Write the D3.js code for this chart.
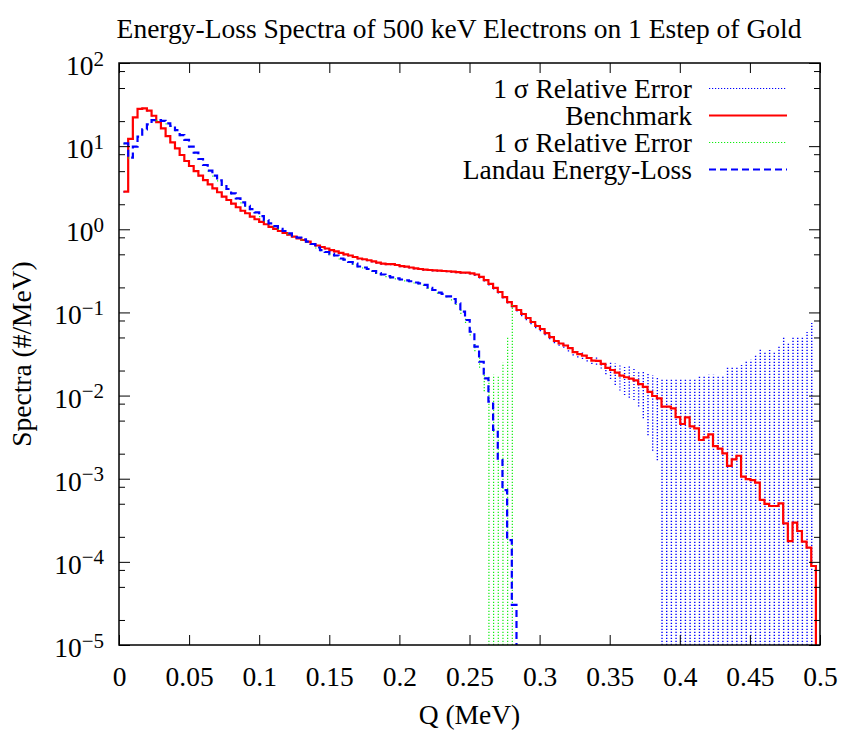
<!DOCTYPE html>
<html>
<head>
<meta charset="utf-8">
<script src="https://cdn.jsdelivr.net/npm/d3@7"></script>
<style>
  body { margin: 0; background: #fff; }
  svg { display: block; }
  svg text { font-family: 'Liberation Serif', 'Times New Roman', Times, 'DejaVu Serif', serif; }
</style>
</head>
<body>
<svg id="chart" width="844" height="730"></svg>
<script>
// histogram binning (MeV)
const binLo = 0.00321;
const binWidth = 0.003337;

// Benchmark spectrum (#/MeV), one value per bin
const benchmark = [
  2.83, 12.2, 22.2, 28.0, 28.5, 26.7, 23.2, 19.4, 16.4, 13.2,
  11.1, 9.42, 7.82, 6.63, 5.77, 5.02, 4.41, 3.91, 3.47, 3.11,
  2.79, 2.47, 2.25, 2.03, 1.84, 1.67, 1.56, 1.42, 1.32, 1.23,
  1.15, 1.07, 1.01, 0.953, 0.902, 0.861, 0.814, 0.779, 0.743, 0.709,
  0.665, 0.638, 0.612, 0.587, 0.563, 0.541, 0.519, 0.500, 0.484, 0.464,
  0.445, 0.436, 0.424, 0.412, 0.398, 0.387, 0.382, 0.380, 0.372, 0.361,
  0.355, 0.347, 0.339, 0.333, 0.328, 0.324, 0.321, 0.318, 0.315, 0.313,
  0.309, 0.305, 0.301, 0.301, 0.295, 0.286, 0.267, 0.245, 0.220, 0.197,
  0.176, 0.153, 0.133, 0.119, 0.107, 0.0957, 0.0857, 0.0767, 0.0687, 0.0632,
  0.0565, 0.0506, 0.0453, 0.0423, 0.0400, 0.0373, 0.0334, 0.0316, 0.0303, 0.0283,
  0.0263, 0.0261, 0.0240, 0.0215, 0.0203, 0.0189, 0.0174, 0.0166, 0.0160, 0.0152,
  0.0137, 0.0127, 0.0111, 0.00988, 0.00927, 0.00735, 0.00735, 0.00703, 0.00552, 0.00455,
  0.00548, 0.00427, 0.00404, 0.00292, 0.00315, 0.00342, 0.00247, 0.00230, 0.00202, 0.00143,
  0.00171, 0.00189, 0.00106, 0.000991, 0.000964, 0.000895, 0.000555, 0.000497, 0.000470, 0.000470,
  0.000506, 0.000291, 0.000178, 0.000296, 0.000235, 0.000175, 0.000148, 0.0000891
];

// 1 sigma relative error of the benchmark
const benchErr = [
  0.02, 0.02, 0.02, 0.02, 0.02, 0.02, 0.02, 0.02, 0.02, 0.02,
  0.02, 0.02, 0.02, 0.02, 0.02, 0.02, 0.02, 0.02, 0.02, 0.02,
  0.02, 0.02, 0.02, 0.02, 0.02, 0.02, 0.02, 0.02, 0.02, 0.02,
  0.02, 0.02, 0.02, 0.02, 0.02, 0.02, 0.02, 0.02, 0.02, 0.02,
  0.03, 0.03, 0.03, 0.03, 0.03, 0.03, 0.03, 0.03, 0.03, 0.03,
  0.03, 0.03, 0.03, 0.03, 0.03, 0.03, 0.03, 0.03, 0.03, 0.03,
  0.03, 0.03, 0.03, 0.03, 0.03, 0.03, 0.03, 0.03, 0.03, 0.03,
  0.03, 0.03, 0.03, 0.03, 0.03, 0.04, 0.04, 0.04, 0.04, 0.04,
  0.04, 0.04, 0.04, 0.04, 0.04, 0.06, 0.06, 0.06, 0.06, 0.06,
  0.06, 0.06, 0.06, 0.06, 0.06, 0.09, 0.09, 0.09, 0.09, 0.09,
  0.09, 0.1, 0.12, 0.16, 0.22, 0.29, 0.34, 0.39, 0.41, 0.42,
  0.46, 0.58, 0.7, 0.78, 0.82, 1.15, 1.15, 1.25, 1.86, 2.47,
  1.88, 2.7, 2.9, 5.0, 4.6, 4.2, 6.2, 6.7, 7.7, 14.4,
  11.9, 10.7, 21, 26, 27, 33, 63, 66, 74, 70,
  79, 173, 247, 170, 214, 288, 392, 836
];

// Landau energy-loss spectrum (#/MeV)
const landau = [
  10.8, 7.26, 9.85, 13.0, 15.9, 18.3, 20.5, 20.6, 20.1, 18.8,
  17.5, 15.6, 13.6, 11.9, 9.85, 8.34, 7.00, 5.93, 5.07, 4.41,
  3.88, 3.41, 3.05, 2.71, 2.36, 2.11, 1.92, 1.75, 1.60, 1.44,
  1.29, 1.18, 1.09, 1.01, 0.953, 0.895, 0.837, 0.792, 0.757, 0.709,
  0.665, 0.604, 0.563, 0.533, 0.504, 0.484, 0.445, 0.431, 0.404, 0.387,
  0.357, 0.347, 0.333, 0.315, 0.298, 0.286, 0.274, 0.264, 0.257, 0.249,
  0.243, 0.237, 0.229, 0.223, 0.214, 0.197, 0.186, 0.173, 0.167, 0.156,
  0.145, 0.129, 0.102, 0.0811, 0.0586, 0.0387, 0.0255, 0.0161, 0.00844, 0.00386,
  0.00168, 0.000731, 0.000183, 0.0000303
];

// 1 sigma relative error of the Landau spectrum
const landauErr = [
  0.03, 0.03, 0.03, 0.03, 0.03, 0.03, 0.03, 0.03, 0.03, 0.03,
  0.03, 0.03, 0.03, 0.03, 0.03, 0.03, 0.03, 0.03, 0.03, 0.03,
  0.03, 0.03, 0.03, 0.03, 0.03, 0.03, 0.03, 0.03, 0.03, 0.03,
  0.03, 0.03, 0.03, 0.03, 0.03, 0.03, 0.03, 0.03, 0.03, 0.03,
  0.03, 0.03, 0.03, 0.03, 0.03, 0.03, 0.03, 0.03, 0.03, 0.03,
  0.03, 0.03, 0.03, 0.03, 0.03, 0.03, 0.03, 0.03, 0.03, 0.03,
  0.03, 0.03, 0.03, 0.03, 0.03, 0.03, 0.03, 0.03, 0.03, 0.03,
  0.04, 0.05, 0.06, 0.08, 0.1, 0.12, 0.15, 0.3, 1.0, 3.6,
  9.5, 33, 278, 4050
];

const xTicks = [0, 0.05, 0.1, 0.15, 0.2, 0.25, 0.3, 0.35, 0.4, 0.45, 0.5];
const xTickLabels = ['0', '0.05', '0.1', '0.15', '0.2', '0.25', '0.3', '0.35', '0.4', '0.45', '0.5'];
const yExponents = [2, 1, 0, -1, -2, -3, -4, -5];
const yMinorMantissas = [2, 5, 8];

const legendLabels = ['1 \u03c3 Relative Error', 'Benchmark', '1 \u03c3 Relative Error', 'Landau Energy-Loss'];

const width = 844;
const height = 730;
const margin = { top: 63, right: 24, bottom: 85, left: 119 };
const fontSize = 27.5;
const serif = "'Liberation Serif', 'Times New Roman', Times, 'DejaVu Serif', serif";

const svg = d3.select('#chart').attr('font-family', serif);

const x = d3.scaleLinear().domain([0, 0.5]).range([margin.left, width - margin.right]);
const y = d3.scaleLog().domain([1e-5, 1e2]).range([height - margin.bottom, margin.top]);
const bottomY = y.range()[0];

const yMajor = yExponents.map((e) => Math.pow(10, e));
const yMinor = [];
yExponents.slice(1).forEach((e) => {
  yMinorMantissas.forEach((m) => yMinor.push(m * Math.pow(10, e)));
});

svg.append('defs').append('clipPath').attr('id', 'plot-clip')
  .append('rect')
  .attr('x', margin.left).attr('y', margin.top)
  .attr('width', x.range()[1] - margin.left)
  .attr('height', bottomY - margin.top);

// step outline of a histogram
function stepPath(vals) {
  let p = '';
  vals.forEach((v, i) => {
    const x0 = x(binLo + i * binWidth);
    const x1 = x(binLo + (i + 1) * binWidth);
    p += (i === 0 ? `M${x0},${y(v)}` : `V${y(v)}`) + `H${x1}`;
  });
  return p + `V${bottomY + 4}`;
}

// one dotted vertical bar per bin, drawn bottom-up
function errorPath(vals, rel) {
  let p = '';
  vals.forEach((v, i) => {
    const xi = x(binLo + i * binWidth) + 0.5;
    const lo = v * (1 - rel[i]);
    const hi = v * (1 + rel[i]);
    const y0 = lo > 1e-5 ? y(lo) : bottomY;
    p += `M${xi},${y0}V${y(hi)}`;
  });
  return p;
}

const plot = svg.append('g').attr('clip-path', 'url(#plot-clip)');

plot.append('path')
  .attr('d', errorPath(benchmark, benchErr))
  .attr('fill', 'none')
  .attr('stroke', '#0000ff')
  .attr('stroke-width', 1.4)
  .attr('stroke-dasharray', '1.2,1.8');

plot.append('path')
  .attr('d', stepPath(benchmark))
  .attr('fill', 'none')
  .attr('stroke', '#ff0000')
  .attr('stroke-width', 2.2);

plot.append('path')
  .attr('d', errorPath(landau, landauErr))
  .attr('fill', 'none')
  .attr('stroke', '#11ee11')
  .attr('stroke-width', 1.2)
  .attr('stroke-dasharray', '1.2,1.8');

plot.append('path')
  .attr('d', stepPath(landau))
  .attr('fill', 'none')
  .attr('stroke', '#0000ff')
  .attr('stroke-width', 2.2)
  .attr('stroke-dasharray', '7,4');

// axes: ticks point inward and are mirrored
function styleAxis(g) {
  g.attr('font-family', serif).attr('font-size', fontSize);
  g.select('.domain').remove();
  g.selectAll('.tick line').attr('stroke', '#000').attr('stroke-width', 1);
  g.selectAll('text').attr('fill', '#000');
}

svg.append('g')
  .attr('transform', `translate(0,${bottomY})`)
  .call(d3.axisBottom(x).tickValues(xTicks).tickSize(-10).tickPadding(21)
    .tickFormat((d, i) => xTickLabels[i]))
  .call(styleAxis);

svg.append('g')
  .attr('transform', `translate(0,${margin.top})`)
  .call(d3.axisTop(x).tickValues(xTicks).tickSize(-10).tickFormat(''))
  .call(styleAxis);

const yLeft = svg.append('g')
  .attr('transform', `translate(${margin.left},0)`)
  .call(d3.axisLeft(y).tickValues(yMajor).tickSize(-11).tickPadding(15).tickFormat(() => ''))
  .call(styleAxis);

yLeft.selectAll('.tick text')
  .attr('dy', '0.42em')
  .each(function (d) {
    const t = d3.select(this);
    const e = Math.round(Math.log10(d));
    t.append('tspan').text('10');
    t.append('tspan')
      .attr('dy', '-0.45em')
      .attr('font-size', 21)
      .text(e < 0 ? '\u2212' + (-e) : String(e));
  });

svg.append('g')
  .attr('transform', `translate(${margin.left},0)`)
  .call(d3.axisLeft(y).tickValues(yMinor).tickSize(-6).tickFormat(''))
  .call(styleAxis);

svg.append('g')
  .attr('transform', `translate(${x.range()[1]},0)`)
  .call(d3.axisRight(y).tickValues(yMajor).tickSize(-11).tickFormat(''))
  .call(styleAxis);

svg.append('g')
  .attr('transform', `translate(${x.range()[1]},0)`)
  .call(d3.axisRight(y).tickValues(yMinor).tickSize(-6).tickFormat(''))
  .call(styleAxis);

// frame
svg.append('rect')
  .attr('x', margin.left).attr('y', margin.top)
  .attr('width', x.range()[1] - margin.left)
  .attr('height', bottomY - margin.top)
  .attr('fill', 'none')
  .attr('stroke', '#000')
  .attr('stroke-width', 1.5);

// titles
svg.append('text')
  .attr('x', 459).attr('y', 38)
  .attr('text-anchor', 'middle')
  .attr('font-size', fontSize)
  .text('Energy-Loss Spectra of 500 keV Electrons on 1 Estep of Gold');

svg.append('text')
  .attr('x', (margin.left + x.range()[1]) / 2).attr('y', 724)
  .attr('text-anchor', 'middle')
  .attr('font-size', fontSize)
  .text('Q (MeV)');

svg.append('text')
  .attr('transform', `translate(31,${(margin.top + bottomY) / 2}) rotate(-90)`)
  .attr('text-anchor', 'middle')
  .attr('font-size', fontSize)
  .text('Spectra (#/MeV)');

// legend
const legendStyles = [
  { stroke: '#0000ff', width: 1.2, dash: '1.2,1.8' },
  { stroke: '#ff0000', width: 2.2, dash: null },
  { stroke: '#11ee11', width: 1.2, dash: '1.2,1.8' },
  { stroke: '#0000ff', width: 2.2, dash: '7,4' }
];

const legend = svg.append('g').attr('class', 'legend');
legendLabels.forEach((label, i) => {
  const rowY = 88.5 + i * 27;
  legend.append('text')
    .attr('x', 692).attr('y', rowY + 9)
    .attr('text-anchor', 'end')
    .attr('font-size', fontSize)
    .text(label);
  legend.append('line')
    .attr('x1', 709).attr('x2', 787)
    .attr('y1', rowY).attr('y2', rowY)
    .attr('stroke', legendStyles[i].stroke)
    .attr('stroke-width', legendStyles[i].width)
    .attr('stroke-dasharray', legendStyles[i].dash);
});
</script>
</body>
</html>
